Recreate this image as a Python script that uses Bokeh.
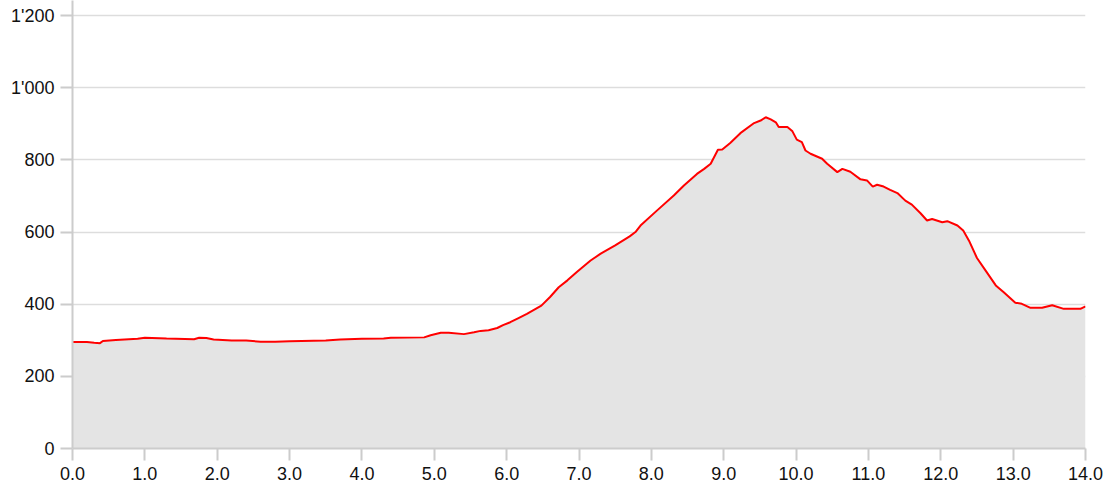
from bokeh.plotting import figure
from bokeh.models import Range1d, FixedTicker, CustomJSTickFormatter
from bokeh.embed import file_html
from bokeh.resources import INLINE

distance_km = [0.0, 0.2, 0.3, 0.38, 0.42, 0.6, 0.9, 1.0, 1.3, 1.68, 1.75, 1.85, 1.95, 2.2, 2.4,
               2.6, 2.8, 3.0, 3.5, 3.7, 4.0, 4.3, 4.4, 4.86, 4.95, 5.09, 5.2, 5.41, 5.55, 5.64,
               5.75, 5.87, 5.95, 6.05, 6.15, 6.28, 6.48, 6.6, 6.72, 6.84, 6.97, 7.16, 7.3, 7.5,
               7.7, 7.78, 7.85, 8.08, 8.31, 8.45, 8.63, 8.73, 8.82, 8.92, 8.98, 9.09, 9.23, 9.42,
               9.51, 9.58, 9.65, 9.72, 9.76, 9.88, 9.95, 10.01, 10.08, 10.13, 10.2, 10.36, 10.43,
               10.57, 10.64, 10.75, 10.89, 10.98, 11.06, 11.12, 11.21, 11.3, 11.4, 11.51, 11.6,
               11.72, 11.81, 11.88, 12.02, 12.09, 12.23, 12.31, 12.39, 12.5, 12.62, 12.76, 12.87,
               13.03, 13.12, 13.24, 13.4, 13.54, 13.7, 13.84, 13.93, 14.0]
elevation_m = [295, 295, 293, 292, 298, 301, 304, 307, 305, 303, 307, 306, 302, 299, 299,
               296, 296, 297, 299, 302, 304, 305, 307, 308, 314, 321, 321, 317, 322, 326,
               328, 334, 342, 350, 360, 373, 396, 420, 447, 466, 489, 521, 540, 563,
               588, 600, 618, 660, 701, 729, 761, 775, 789, 828, 829, 847, 874, 902,
               909, 918, 912, 904, 891, 891, 879, 856, 849, 826, 817, 803, 789,
               766, 775, 767, 746, 743, 726, 731, 726, 717, 708, 687, 676,
               652, 632, 636, 627, 630, 618, 604, 576, 528, 493, 452, 433,
               404, 401, 390, 390, 397, 387, 387, 387, 394]
x_ticks = list(range(0, 15))
y_ticks = [0, 200, 400, 600, 800, 1000, 1200]

p = figure(width=1103, height=488, output_backend="svg", toolbar_location=None,
           x_range=Range1d(0, 14), y_range=Range1d(0, 1241.7),
           min_border_left=72, min_border_right=18, min_border_top=0, min_border_bottom=40)
p.outline_line_color = None
p.background_fill_color = "white"

p.varea(x=distance_km, y1=[0] * len(distance_km), y2=elevation_m, fill_color="#e4e4e4")
p.line(distance_km, elevation_m, line_color="#ff0000", line_width=2)

for ax in (p.xaxis[0], p.yaxis[0]):
    ax.axis_line_color = "#cccccc"
    ax.axis_line_width = 2
    ax.major_tick_line_color = "#cccccc"
    ax.major_tick_line_width = 2
    ax.major_tick_out = 12
    ax.major_tick_in = 0
    ax.minor_tick_line_color = None
    ax.major_label_text_font = "Liberation Sans"
    ax.major_label_text_font_size = "18px"
    ax.major_label_text_color = "#111111"
    ax.major_label_standoff = 6

p.xaxis.ticker = FixedTicker(ticks=x_ticks)
p.yaxis.ticker = FixedTicker(ticks=y_ticks)
p.xaxis.formatter = CustomJSTickFormatter(code="return tick.toFixed(1);")
p.yaxis.formatter = CustomJSTickFormatter(
    code="return Math.round(tick).toString().replace(/\\B(?=(\\d{3})+(?!\\d))/g, \"'\");")

p.xgrid.grid_line_color = None
p.ygrid.grid_line_color = "#dddddd"
p.ygrid.grid_line_width = 1.5

open("out.html", "w").write(file_html(p, INLINE))
